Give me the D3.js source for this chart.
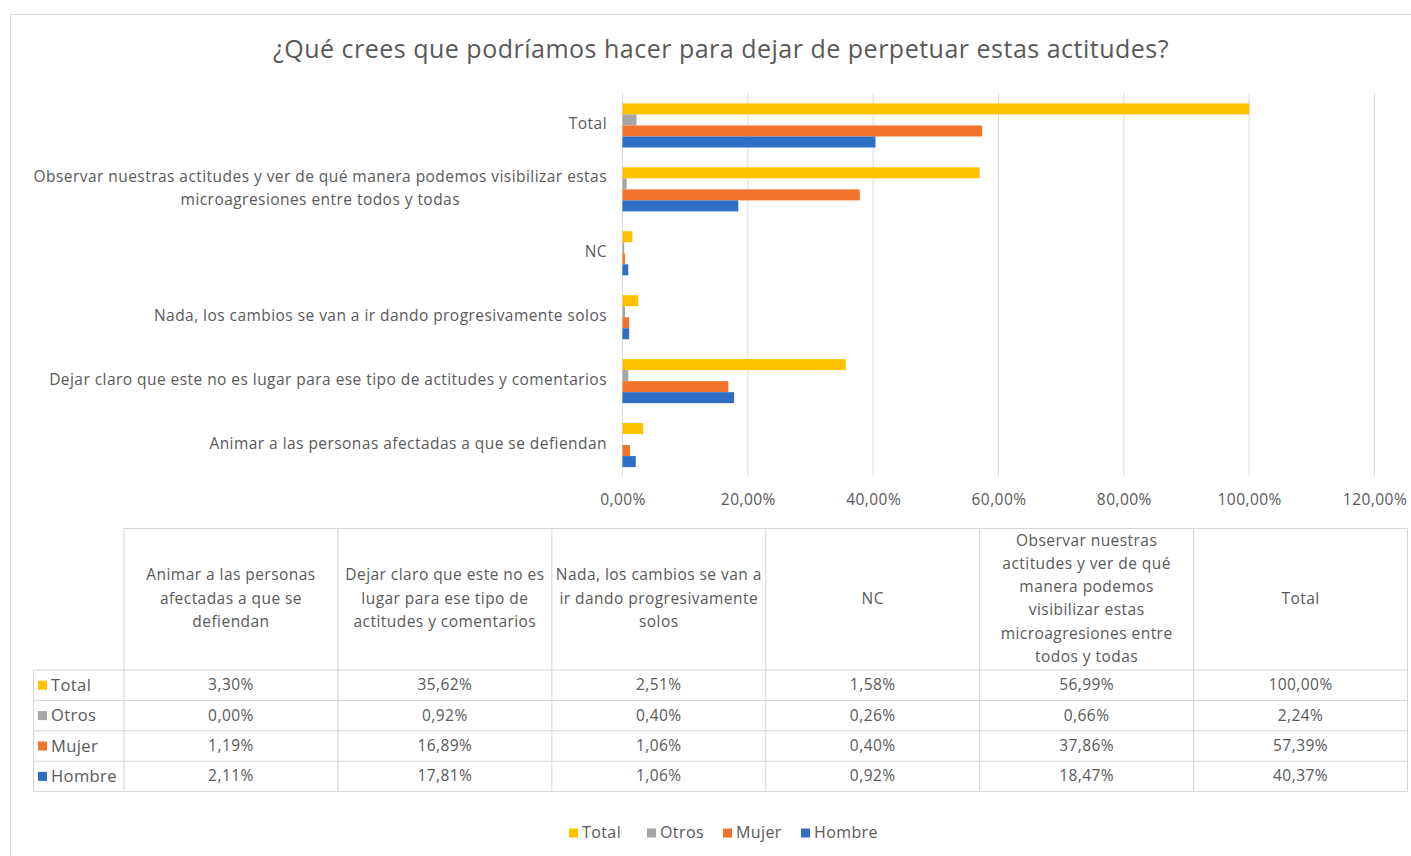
<!DOCTYPE html>
<html><head><meta charset="utf-8">
<script src="https://cdn.jsdelivr.net/npm/d3@7"></script>
<style>
body{margin:0;background:#fff;}
svg text{font-family:"Open Sans",sans-serif;fill:#595959;}
</style></head>
<body><svg id="c" width="1411" height="856"></svg>
<script>
const title = "¿Qué crees que podríamos hacer para dejar de perpetuar estas actitudes?";
// categories in table order (bottom to top in chart)
const categories = [
  "Animar a las personas afectadas a que se defiendan",
  "Dejar claro que este no es lugar para ese tipo de actitudes y comentarios",
  "Nada, los cambios se van a ir dando progresivamente solos",
  "NC",
  "Observar nuestras actitudes y ver de qué manera podemos visibilizar estas microagresiones entre todos y todas",
  "Total"
];
const axisLabelLines = [
  ["Animar a las personas afectadas a que se defiendan"],
  ["Dejar claro que este no es lugar para ese tipo de actitudes y comentarios"],
  ["Nada, los cambios se van a ir dando progresivamente solos"],
  ["NC"],
  ["Observar nuestras actitudes y ver de qué manera podemos visibilizar estas","microagresiones entre todos y todas"],
  ["Total"]
];
const headerLines = [
  ["Animar a las personas","afectadas a que se","defiendan"],
  ["Dejar claro que este no es","lugar para ese tipo de","actitudes y comentarios"],
  ["Nada, los cambios se van a","ir dando progresivamente","solos"],
  ["NC"],
  ["Observar nuestras","actitudes y ver de qué","manera podemos","visibilizar estas","microagresiones entre","todos y todas"],
  ["Total"]
];
const seriesNames = ["Total","Otros","Mujer","Hombre"];
const seriesColors = ["#FFC000","#A5A5A5","#F2742A","#2E6FC6"];
const totalValues  = [3.30, 35.62, 2.51, 1.58, 56.99, 100.00];
const otrosValues  = [0.00, 0.92, 0.40, 0.26, 0.66, 2.24];
const mujerValues  = [1.19, 16.89, 1.06, 0.40, 37.86, 57.39];
const hombreValues = [2.11, 17.81, 1.06, 0.92, 18.47, 40.37];
const xTicks = [0,20,40,60,80,100,120];

const series = [totalValues, otrosValues, mujerValues, hombreValues];
const fmt = v => v.toFixed(2).replace(".", ",") + "%";
const FS = "15.5px", LS = "0.45px";

const svg = d3.select("#c");
svg.append("rect").attr("x",10.5).attr("y",14.5).attr("width",1420).attr("height",860)
  .attr("fill","#fff").attr("stroke","#D9D9D9");

svg.append("text").attr("x",721).attr("y",48).attr("text-anchor","middle")
  .attr("dominant-baseline","central").style("font-size","25px").style("letter-spacing","0.5px").text(title);

const x = d3.scaleLinear().domain([0,120]).range([622.5,1374.5]);
const yOrder = categories.map((c,i)=>i).reverse(); // Total at top
const y = d3.scaleBand().domain(yOrder).range([93.5,477]).paddingInner(0.31).paddingOuter(0.155);
const ySub = d3.scaleBand().domain(d3.range(4)).range([0,y.bandwidth()]);

// gridlines
svg.append("g").selectAll("line").data(xTicks).join("line")
  .attr("x1",d=>x(d)).attr("x2",d=>x(d)).attr("y1",93).attr("y2",476)
  .attr("stroke","#D9D9D9").attr("stroke-width",1);

// bars
series.forEach((vals,s)=>{
  svg.append("g").selectAll("rect").data(vals).join("rect")
    .attr("x",x(0)).attr("y",(d,i)=>y(i)+ySub(s))
    .attr("width",d=>x(d)-x(0)).attr("height",ySub.bandwidth())
    .attr("fill",seriesColors[s]);
});

// x axis labels
const xAxis = d3.axisBottom(x).tickValues(xTicks).tickSize(0).tickFormat(d=>fmt(d));
const gx = svg.append("g").attr("transform","translate(0,490)").call(xAxis);
gx.select(".domain").remove();
gx.selectAll("text").style("font-size",FS).style("letter-spacing",LS).style("font-family","'Open Sans',sans-serif").attr("fill","#595959").attr("dy","0.32em").attr("y",10);

// category labels
const labelRight = 607;
axisLabelLines.forEach((lines,i)=>{
  const cy = y(i)+y.bandwidth()/2;
  const g = svg.append("g");
  const lh = 23;
  const texts = lines.map((l,j)=>g.append("text").attr("y",cy-2+(j-(lines.length-1)/2)*lh)
    .attr("dominant-baseline","central").style("font-size",FS).style("letter-spacing",LS).text(l));
  const w = d3.max(texts,t=>t.node().getComputedTextLength());
  texts.forEach(t=>t.attr("x",labelRight-w/2).attr("text-anchor","middle"));
});

// table
const colX = d3.scaleLinear().domain([0,6]).range([124,1407.5]);
const rowTop = 528.5, headerBottom = 670, rowH = 30.4;
const tableBottom = headerBottom + 4*rowH;
const grid = svg.append("g").attr("stroke","#D4D4D4").attr("stroke-width",1).attr("fill","none");
grid.append("line").attr("x1",colX(0)).attr("x2",colX(6)).attr("y1",rowTop).attr("y2",rowTop);
for(let c=0;c<=6;c++){
  grid.append("line").attr("x1",colX(c)).attr("x2",colX(c)).attr("y1",rowTop).attr("y2",tableBottom);
}
grid.append("line").attr("x1",33.5).attr("x2",33.5).attr("y1",headerBottom).attr("y2",tableBottom);
for(let r=0;r<=4;r++){
  grid.append("line").attr("x1",33.5).attr("x2",colX(6)).attr("y1",headerBottom+r*rowH).attr("y2",headerBottom+r*rowH);
}
const hcy = (rowTop+headerBottom)/2 - 1.5;
headerLines.forEach((lines,c)=>{
  const cx = (colX(c)+colX(c+1))/2;
  lines.forEach((l,j)=>{
    svg.append("text").attr("x",cx).attr("y",hcy+(j-(lines.length-1)/2)*23.3)
      .attr("text-anchor","middle").attr("dominant-baseline","central").style("font-size",FS).style("letter-spacing",LS).text(l);
  });
});
series.forEach((vals,s)=>{
  const cy = headerBottom + s*rowH + rowH/2;
  svg.append("rect").attr("x",38).attr("y",cy-4.5).attr("width",9).attr("height",9).attr("fill",seriesColors[s]);
  svg.append("text").attr("x",51).attr("y",cy-1).attr("dominant-baseline","central").style("font-size","16.5px").style("letter-spacing","0.4px").text(seriesNames[s]);
  vals.forEach((v,c)=>{
    svg.append("text").attr("x",(colX(c)+colX(c+1))/2).attr("y",cy-1).attr("text-anchor","middle")
      .attr("dominant-baseline","central").style("font-size",FS).style("letter-spacing",LS).text(fmt(v));
  });
});

// legend
const legendStarts = [569,647,723,801];
seriesNames.forEach((n,s)=>{
  const lx = legendStarts[s];
  svg.append("rect").attr("x",lx).attr("y",828.5).attr("width",9).attr("height",9).attr("fill",seriesColors[s]);
  svg.append("text").attr("x",lx+13).attr("y",832).attr("dominant-baseline","central").style("font-size","16px").style("letter-spacing","0.4px").text(n);
});
</script></body></html>
